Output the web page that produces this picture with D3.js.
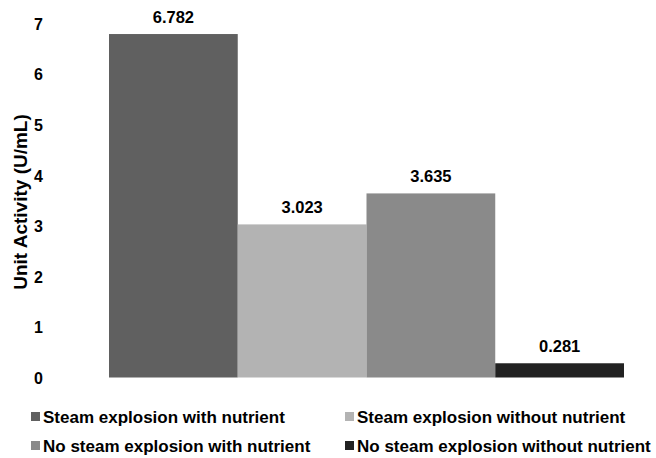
<!DOCTYPE html>
<html>
    <head>
    <style>
        body { margin: 0; background: #fff; }
        text { font-family: "Liberation Sans", Arial, sans-serif; font-weight: bold; }
    </style>
    </head>
<body>
    <svg width="656" height="458"></svg>
    <script src="https://d3js.org/d3.v7.min.js"></script>
    <script>
        const series = ["Steam explosion with nutrient", "Steam explosion without nutrient",
                        "No steam explosion with nutrient", "No steam explosion without nutrient"];
        const values = [6.782, 3.023, 3.635, 0.281];
        const valueLabels = ["6.782", "3.023", "3.635", "0.281"];
        const colors = ["#606060", "#b3b3b3", "#8a8a8a", "#222222"];
        const yTicks = [0, 1, 2, 3, 4, 5, 6, 7];

        const svg = d3.select("svg");

        const x = d3.scaleBand()
            .domain(series)
            .range([109, 624])
            .padding(0);

        const y = d3.scaleLinear()
            .domain([0, 7])
            .range([377.5, 23]);

        // y axis: labels only
        const yAxis = svg.append("g")
            .attr("transform", "translate(43,1)")
            .call(d3.axisLeft(y).tickValues(yTicks).tickSize(0).tickPadding(0).tickFormat(d3.format("d")));
        yAxis.select(".domain").remove();
        yAxis.selectAll("text")
            .attr("font-size", 16)
            .attr("font-family", "Liberation Sans, Arial, sans-serif")
            .attr("font-weight", "bold")
            .attr("fill", "#000");

        svg.append("text")
            .attr("transform", "translate(27,202) rotate(-90)")
            .attr("text-anchor", "middle")
            .attr("font-size", 19)
            .text("Unit Activity (U/mL)");

        // bars
        svg.selectAll(".bar")
            .data(values)
            .enter().append("rect")
            .attr("class", "bar")
            .attr("x", function(d, i) { return x(series[i]); })
            .attr("width", x.bandwidth())
            .attr("y", function(d) { return y(d); })
            .attr("height", function(d) { return y(0) - y(d); })
            .attr("fill", function(d, i) { return colors[i]; });

        svg.selectAll(".val")
            .data(values)
            .enter().append("text")
            .attr("class", "val")
            .attr("x", function(d, i) { return x(series[i]) + x.bandwidth() / 2; })
            .attr("y", function(d) { return y(d) - 11; })
            .attr("text-anchor", "middle")
            .attr("font-size", 16.5)
            .text(function(d, i) { return valueLabels[i]; });

        // legend
        const legendPos = [[31, 416.5], [345, 416.5], [31, 445.5], [345, 445.5]];
        const legend = svg.selectAll(".legend")
            .data(series)
            .enter().append("g")
            .attr("class", "legend")
            .attr("transform", function(d, i) { return "translate(" + legendPos[i][0] + "," + legendPos[i][1] + ")"; });

        legend.append("rect")
            .attr("x", 0)
            .attr("y", -4.5)
            .attr("width", 9)
            .attr("height", 9)
            .attr("fill", function(d, i) { return colors[i]; });

        legend.append("text")
            .attr("x", 12)
            .attr("dy", "0.36em")
            .attr("font-size", 17)
            .text(function(d) { return d; });
    </script>
</body>
</html>
